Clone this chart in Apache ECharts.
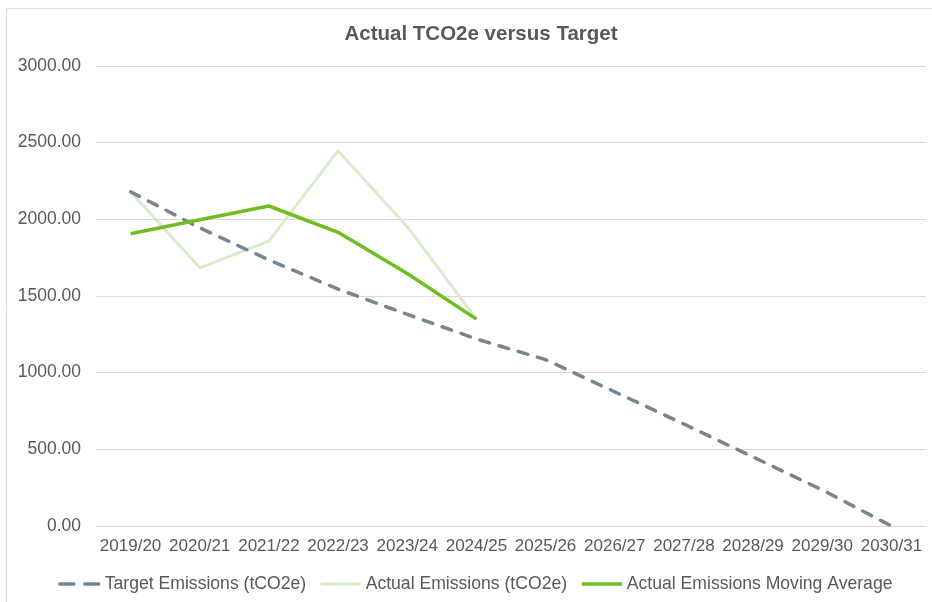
<!DOCTYPE html>
<html>
<head>
<meta charset="utf-8">
<style>
  html, body { margin: 0; padding: 0; background: #ffffff; }
  #chart { width: 932px; height: 602px; }
</style>
<script src="https://cdn.jsdelivr.net/npm/echarts@6/dist/echarts.min.js"></script>
</head>
<body>
<div id="chart"></div>
<script>
// Financial years on the category axis
const years = ['2019/20', '2020/21', '2021/22', '2022/23', '2023/24', '2024/25',
  '2025/26', '2026/27', '2027/28', '2028/29', '2029/30', '2030/31'];

// Target trajectory down to net zero (tCO2e)
const targetEmissions = [2180, 1945, 1735, 1545, 1380, 1220, 1085, 875, 665, 450, 235, 0];

// Reported emissions so far (tCO2e)
const actualEmissions = [2180, 1684, 1858, 2448, 1952, 1349, null, null, null, null, null, null];

// Moving average of reported emissions
const movingAverage = [1906, 1997, 2087, 1915, 1647, 1349, null, null, null, null, null, null];

// Value axis ticks
const yMin = 0, yMax = 3000, yStep = 500;

const textColor = '#595959';
const fontFamily = '"Liberation Sans", Arial, sans-serif';

const chart = echarts.init(document.getElementById('chart'), null, { renderer: 'canvas' });

chart.setOption({
  backgroundColor: '#ffffff',
  animation: false,
  title: {
    text: 'Actual TCO2e versus Target',
    left: 476,
    textAlign: 'center',
    top: 19,
    textStyle: { color: textColor, fontFamily, fontSize: 20.5, fontWeight: 'bold' }
  },
  graphic: [{
    type: 'rect',
    shape: { x: 6.5, y: 8.5, width: 1200, height: 1200 },
    style: { fill: 'none', stroke: '#d9d9d9', lineWidth: 1 },
    silent: true,
    z: -1
  }],
  grid: { left: 96, right: 6, top: 66, bottom: 76, containLabel: false },
  xAxis: {
    type: 'category',
    data: years,
    boundaryGap: true,
    axisLine: { show: false },
    axisTick: { show: false },
    axisLabel: { interval: 0, color: textColor, fontFamily, fontSize: 17, margin: 12 }
  },
  yAxis: {
    type: 'value',
    min: yMin,
    max: yMax,
    interval: yStep,
    axisLine: { show: false },
    axisTick: { show: false },
    splitLine: { lineStyle: { color: '#d9d9d9', width: 1 } },
    axisLabel: {
      color: textColor, fontFamily, fontSize: 17.5, margin: 15,
      formatter: v => v.toFixed(2)
    }
  },
  legend: {
    left: 58,
    top: 575,
    padding: 0,
    itemWidth: 40,
    itemHeight: 14,
    itemGap: 13,
    itemStyle: { opacity: 0 },
    textStyle: { color: textColor, fontFamily, fontSize: 17.6 },
    data: [
      { name: 'Target Emissions (tCO2e)', lineStyle: { type: [14, 11], cap: 'round', width: 3.5 } },
      { name: 'Actual Emissions (tCO2e)', lineStyle: { width: 3 } },
      { name: 'Actual Emissions Moving Average', lineStyle: { width: 3.5 } }
    ]
  },
  series: [
    {
      name: 'Target Emissions (tCO2e)',
      type: 'line',
      data: targetEmissions,
      symbol: 'none',
      z: 3,
      itemStyle: { color: '#788591' },
      lineStyle: { color: '#788591', width: 3.5, type: [10, 10], cap: 'round' }
    },
    {
      name: 'Actual Emissions (tCO2e)',
      type: 'line',
      data: actualEmissions,
      symbol: 'none',
      z: 2,
      itemStyle: { color: '#d9ebc9' },
      lineStyle: { color: '#d9ebc9', width: 3 }
    },
    {
      name: 'Actual Emissions Moving Average',
      type: 'line',
      data: movingAverage,
      symbol: 'none',
      z: 4,
      itemStyle: { color: '#70bd21' },
      lineStyle: { color: '#70bd21', width: 3.5 }
    }
  ]
});
</script>
</body>
</html>
